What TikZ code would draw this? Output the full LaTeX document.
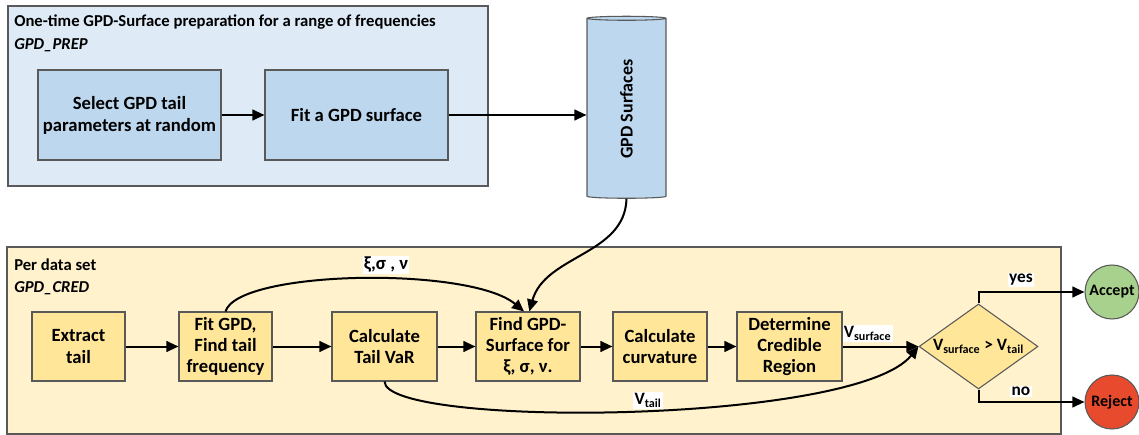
\documentclass[tikz,border=0pt]{standalone}
\usepackage{fontspec}
\setmainfont{Carlito}
\usepackage{tikz}
\usetikzlibrary{shapes.geometric, arrows.meta, positioning}
\usepackage{xcolor}
\definecolor{edgegray}{HTML}{595959}
\definecolor{prepback}{HTML}{DEEBF7}
\definecolor{prepblue}{HTML}{BDD7EE}
\definecolor{credback}{HTML}{FFF2CC}
\definecolor{credgold}{HTML}{FFE699}
\definecolor{acceptgreen}{HTML}{A9D18E}
\definecolor{rejectred}{HTML}{E84A2E}

\begin{document}
\begin{tikzpicture}[x=0.75pt, y=-0.75pt,
    group/.style = {rectangle, draw=edgegray, line width=0.8pt},
    grouptitle/.style = {anchor=west, inner sep=0pt, font=\bfseries\fontsize{12.5}{14}\selectfont},
    prepbox/.style = {rectangle, draw=edgegray, fill=prepblue, line width=0.8pt, align=center, font=\bfseries\fontsize{14}{16.5}\selectfont, minimum width=137.25pt, minimum height=67.5pt},
    credbox/.style = {rectangle, draw=edgegray, fill=credgold, line width=0.8pt, align=center, inner sep=1pt, font=\bfseries\fontsize{14}{16}\selectfont, minimum height=51.75pt},
    outcome/.style = {circle, draw=edgegray, line width=0.8pt, inner sep=0pt, minimum size=40.5pt, font=\bfseries\fontsize{12}{13}\selectfont},
    flow/.style = {-{Triangle[length=9pt,width=8pt]}, line width=1.5pt},
    tag/.style = {fill=white, inner sep=1pt, font=\bfseries\fontsize{13}{15}\selectfont}
]
\useasboundingbox (0,0) rectangle (1139,435);

% Groups
\node (prep) [group, fill=prepback, minimum width=360pt, minimum height=135pt] at (248,96) {};
\node (preptitle) [grouptitle] at (14,22) {One-time GPD-Surface preparation for a range of frequencies};
\node (prepname) [grouptitle, font=\bfseries\itshape\fontsize{12.5}{14}\selectfont] at (14,45) {GPD\_PREP};
\node (cred) [group, fill=credback, minimum width=790.5pt, minimum height=140.25pt] at (534,340.5) {};
\node (credtitle) [grouptitle] at (14,265) {Per data set};
\node (credname) [grouptitle, font=\bfseries\itshape\fontsize{12.5}{14}\selectfont] at (14,288) {GPD\_CRED};

% Preparation steps
\node (pick) [prepbox] at (129.5,115) {Select GPD tail\\parameters at random};
\node (fitsurf) [prepbox] at (356.5,115) {Fit a GPD surface};
\node (surf) [cylinder, shape border rotate=90, draw=edgegray, fill=prepblue, line width=0.8pt, aspect=0.45, minimum height=136.5pt, minimum width=59.25pt,
    label={[rotate=90, font=\bfseries\fontsize{13.5}{15}\selectfont]center:GPD Surfaces}] at (626.5,109) {};

% Per data set steps
\node (extract) [credbox, minimum width=69.75pt] at (78.5,346.5) {Extract\\tail};
\node (fitgpd) [credbox, minimum width=69.75pt] at (225.5,346.5) {Fit GPD,\\Find tail\\frequency};
\node (tailvar) [credbox, minimum width=78.75pt] at (384.5,346.5) {Calculate\\Tail VaR};
\node (findsurf) [credbox, minimum width=78pt] at (528,346.5) {Find GPD-\\Surface for\\ξ, σ, ν.};
\node (curv) [credbox, minimum width=70.5pt] at (660,346.5) {Calculate\\curvature};
\node (credreg) [credbox, minimum width=78.75pt] at (789.5,346.5) {Determine\\Credible\\Region};
\node (cond) [diamond, draw=edgegray, fill=credgold, line width=0.8pt, inner sep=0pt, minimum width=89.25pt, minimum height=63.75pt,
    label={[font=\bfseries\fontsize{13}{14}\selectfont]center:V\textsubscript{surface} > V\textsubscript{tail}}] at (978.5,346.5) {};
\node (accept) [outcome, fill=acceptgreen] at (1112,292) {Accept};
\node (reject) [outcome, fill=rejectred] at (1112,402) {Reject};

% Arrows
\draw [flow] (pick) -- (fitsurf);
\draw [flow] (fitsurf) -- (fitsurf -| surf.west);
\draw [flow] (extract) -- (fitgpd);
\draw [flow] (fitgpd) -- (tailvar);
\draw [flow] (tailvar) -- (findsurf);
\draw [flow] (findsurf) -- (curv);
\draw [flow] (curv) -- (credreg);
\draw [flow] (credreg) -- node[tag, pos=0.33, above=3pt]{V\textsubscript{surface}} (cond.west);
\draw [flow] (fitgpd.north) .. controls (238,270) and (470,266) .. ([xshift=-3pt]findsurf.north);
\draw [flow] (surf.south) .. controls (625,255) and (545,255) .. ([xshift=1pt]findsurf.north);
\draw [flow] (tailvar.south) .. controls (385,428) and (855,425) .. (cond.west);
\draw [flow] (cond.north) |- node[tag, pos=0.7, above=3pt]{yes} (accept.west);
\draw [flow] (cond.south) |- node[tag, pos=0.7, above=3pt]{no} (reject.west);

% Labels
\node (params) [tag, font=\bfseries\fontsize{14}{15}\selectfont] at (386,265) {ξ,σ , ν};
\node (vtail) [tag] at (648,400) {V\textsubscript{tail}};

\end{tikzpicture}
\end{document}
